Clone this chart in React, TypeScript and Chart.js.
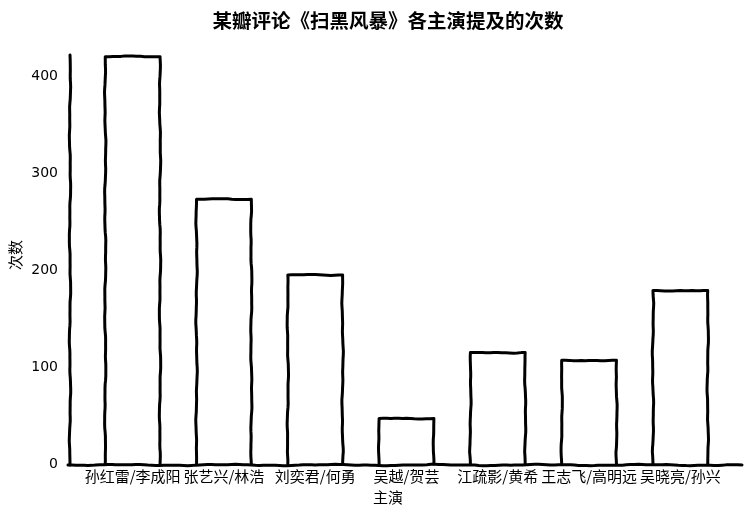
import React, { useEffect, useRef } from "react";
import { Chart, registerables } from "chart.js";

Chart.register(...registerables);

const titleText = "某瓣评论《扫黑风暴》各主演提及的次数";
const xTitle = "主演";
const yTitle = "次数";
const categories = [
  "孙红雷/李成阳",
  "张艺兴/林浩",
  "刘奕君/何勇",
  "吴越/贺芸",
  "江疏影/黄希",
  "王志飞/高明远",
  "吴晓亮/孙兴",
];
const counts = [420, 273, 195, 47, 115, 107, 179];
const yTickValues = [0, 100, 200, 300, 400];

const CJK = '"Noto Sans CJK SC", "Noto Sans", sans-serif';

function noise(seed: number, t: number) {
  return (
    Math.sin(t * 0.06 + seed * 1.7) * 0.6 +
    Math.sin(t * 0.19 + seed * 3.1) * 0.3 +
    Math.sin(t * 0.45 + seed * 0.7) * 0.1
  );
}

function wobblyLine(
  ctx: CanvasRenderingContext2D,
  x1: number,
  y1: number,
  x2: number,
  y2: number,
  seed: number,
  first: boolean
) {
  const len = Math.hypot(x2 - x1, y2 - y1);
  const n = Math.max(2, Math.round(len / 4));
  const nx = -(y2 - y1) / (len || 1);
  const ny = (x2 - x1) / (len || 1);
  for (let i = 0; i <= n; i++) {
    const t = i / n;
    const edge = Math.min(1, Math.min(i, n - i) / 3);
    const d = noise(seed, t * len) * 0.8 * edge;
    const px = x1 + (x2 - x1) * t + nx * d;
    const py = y1 + (y2 - y1) * t + ny * d;
    if (i === 0 && first) ctx.moveTo(px, py);
    else ctx.lineTo(px, py);
  }
}

const xkcdPlugin = {
  id: "xkcdDraw",
  afterDatasetsDraw(chart: any) {
    const ctx: CanvasRenderingContext2D = chart.ctx;
    const area = chart.chartArea;
    ctx.save();
    ctx.strokeStyle = "#000";
    ctx.lineWidth = 3;
    ctx.lineJoin = "round";
    ctx.lineCap = "round";
    const meta = chart.getDatasetMeta(0);
    meta.data.forEach((bar: any, i: number) => {
      const half = bar.width / 2;
      const l = bar.x - half;
      const r = bar.x + half;
      const top = bar.y;
      const base = bar.base;
      ctx.beginPath();
      wobblyLine(ctx, l, base, l, top, i * 4 + 1, true);
      wobblyLine(ctx, l, top, r, top, i * 4 + 2, false);
      wobblyLine(ctx, r, top, r, base, i * 4 + 3, false);
      ctx.stroke();
    });
    const yAxisX = area.left - 17;
    const xAxisY = area.bottom + 1;
    ctx.beginPath();
    wobblyLine(ctx, yAxisX, area.top + 8, yAxisX, xAxisY, 50, true);
    ctx.stroke();
    ctx.beginPath();
    wobblyLine(ctx, yAxisX - 2, xAxisY, area.right + 16, xAxisY, 60, true);
    ctx.stroke();
    ctx.fillStyle = "#000";
    ctx.textAlign = "center";
    ctx.textBaseline = "middle";
    ctx.font = `bold 19.5px ${CJK}`;
    ctx.fillText(titleText, 388, 21);
    ctx.font = `15px ${CJK}`;
    ctx.fillText(xTitle, 388, 497);
    ctx.save();
    ctx.translate(15, 255);
    ctx.rotate(-Math.PI / 2);
    ctx.fillText(yTitle, 0, 0);
    ctx.restore();
    ctx.restore();
  },
};

export default function App() {
  const ref = useRef<HTMLCanvasElement>(null);
  useEffect(() => {
    if (!ref.current) return;
    const chart = new Chart(ref.current, {
      type: "bar",
      data: {
        labels: categories,
        datasets: [
          {
            data: counts,
            backgroundColor: "rgba(255,255,255,0)",
            borderWidth: 0,
            barPercentage: 0.6,
            categoryPercentage: 1,
          },
        ],
      },
      options: {
        responsive: false,
        animation: false,
        layout: { padding: { left: 0, right: 24, top: 47, bottom: 0 } },
        plugins: {
          legend: { display: false },
          title: { display: false },
          tooltip: { enabled: false },
        },
        scales: {
          x: {
            grid: { display: false, drawTicks: false },
            border: { display: false },
            ticks: {
              autoSkip: false,
              maxRotation: 0,
              minRotation: 0,
              padding: 3,
              color: "#000",
              font: { family: CJK, size: 15 },
            },
            afterFit: (s: any) => {
              s.height = 48;
            },
          },
          y: {
            min: 0,
            max: 430,
            grid: { display: false, drawTicks: false },
            border: { display: false },
            ticks: {
              stepSize: 100,
              padding: 29,
              color: "#000",
              font: { family: '"DejaVu Sans", sans-serif', size: 14 },
            },
            afterBuildTicks: (s: any) => {
              s.ticks = yTickValues.map((v) => ({ value: v }));
            },
            afterFit: (s: any) => {
              s.width = 87;
            },
          },
        },
      },
      plugins: [xkcdPlugin],
    });
    return () => chart.destroy();
  }, []);
  return (
    <div style={{ position: "absolute", left: 0, top: 0, width: 750, height: 512, background: "#fff" }}>
      <canvas ref={ref} width={750} height={512} />
    </div>
  );
}
